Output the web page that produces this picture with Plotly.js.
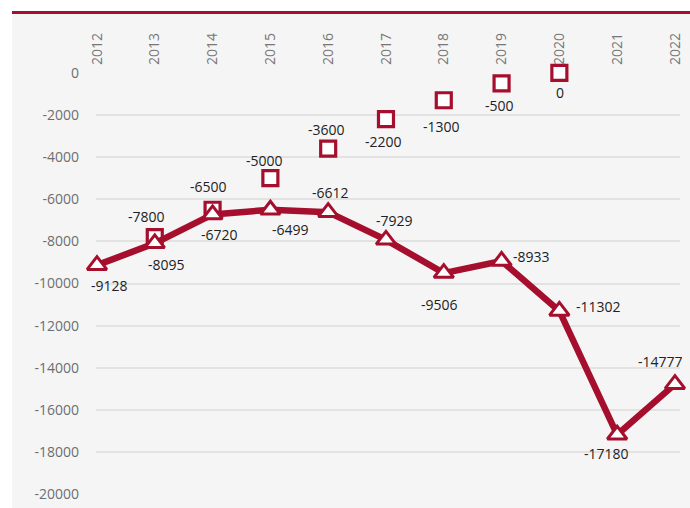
<!DOCTYPE html>
<html>
<head>
<meta charset="utf-8">
<script src="https://cdn.plot.ly/plotly-3.0.1.min.js"></script>
<style>html,body{margin:0;padding:0;background:#fff;}#chart{width:690px;height:508px;}</style>
</head>
<body>
<div id="chart"></div>
<script>
// ---- data ----
const years = [2012, 2013, 2014, 2015, 2016, 2017, 2018, 2019, 2020, 2021, 2022];
const actualValues = [-9128, -8095, -6720, -6499, -6612, -7929, -9506, -8933, -11302, -17180, -14777];
const targetYears = [2013, 2014, 2015, 2016, 2017, 2018, 2019, 2020];
const targetValues = [-7800, -6500, -5000, -3600, -2200, -1300, -500, 0];
const yTicks = [0, -2000, -4000, -6000, -8000, -10000, -12000, -14000, -16000, -18000, -20000];

// ---- label offsets (style, px) ----
const actualShift = [[13,-20],[12,-21],[7,-20],[20,-20],[2,20],[9,19],[-4,-31],[30,5],[39,4],[-11,-19],[-14,23]];
const targetShift = [[-8,21],[-4,23],[-6,18],[-2,19],[-2,-22],[-2,-26],[-2,-22],[1,-20]];

const RED = '#a50f2d';
const FONT = '"Open Sans", "Noto Sans", sans-serif';

const traces = [
  {
    x: targetYears, y: targetValues, type: 'scatter', mode: 'markers',
    marker: {symbol: 'square', size: 15, color: '#ffffff', line: {color: RED, width: 3.2}},
    cliponaxis: false, hoverinfo: 'skip'
  },
  {
    x: years, y: actualValues, type: 'scatter', mode: 'lines+markers',
    line: {color: RED, width: 6.5},
    marker: {symbol: 'triangle-up', size: 17, color: '#ffffff', line: {color: RED, width: 3}},
    cliponaxis: false, hoverinfo: 'skip'
  }
];

const annotations = [];
years.forEach((yr, i) => {
  annotations.push({x: yr, y: actualValues[i], text: String(actualValues[i]), showarrow: false,
    xshift: actualShift[i][0], yshift: actualShift[i][1], font: {family: FONT, size: 14, color: '#222222'}});
});
targetYears.forEach((yr, i) => {
  annotations.push({x: yr, y: targetValues[i], text: String(targetValues[i]), showarrow: false,
    xshift: targetShift[i][0], yshift: targetShift[i][1], font: {family: FONT, size: 14, color: '#222222'}});
});

const W = 690, H = 508, ml = 96, mr = 10, mt = 72, mb = 13;
const pw = W - ml - mr, ph = H - mt - mb;
const px2x = p => (p - ml) / pw;
const py2y = p => 1 - (p - mt) / ph;

const layout = {
  width: W, height: H,
  margin: {l: ml, r: mr, t: mt, b: mb, pad: 0},
  paper_bgcolor: '#ffffff',
  plot_bgcolor: '#f5f5f5',
  showlegend: false,
  font: {family: FONT, size: 14, color: '#6e6e6e'},
  xaxis: {
    side: 'top', range: [2011.983, 2022.087], tickmode: 'array', tickvals: years,
    ticktext: years.map(String), tickangle: -90, showgrid: false, zeroline: false, showline: false,
    ticks: '', ticklabelstandoff: 6, tickfont: {family: FONT, size: 14, color: '#777777'}, fixedrange: true
  },
  yaxis: {
    range: [-20040, 40], tickmode: 'array', tickvals: yTicks, ticktext: yTicks.map(String),
    showgrid: true, gridcolor: '#e2e2e2', gridwidth: 2, zeroline: false, showline: false,
    ticks: '', ticklabelstandoff: 16, tickfont: {family: FONT, size: 14, color: '#6e6e6e'}, fixedrange: true
  },
  shapes: [
    {type: 'rect', xref: 'paper', yref: 'paper', layer: 'below',
     x0: px2x(12), x1: px2x(690), y0: py2y(14), y1: py2y(508),
     fillcolor: '#f5f5f5', line: {width: 0}},
    {type: 'line', xref: 'paper', yref: 'paper', layer: 'above',
     x0: px2x(12), x1: px2x(690), y0: py2y(12.5), y1: py2y(12.5),
     line: {color: RED, width: 3}}
  ],
  annotations: annotations
};

Plotly.newPlot('chart', traces, layout, {staticPlot: true, displayModeBar: false});
</script>
</body>
</html>
